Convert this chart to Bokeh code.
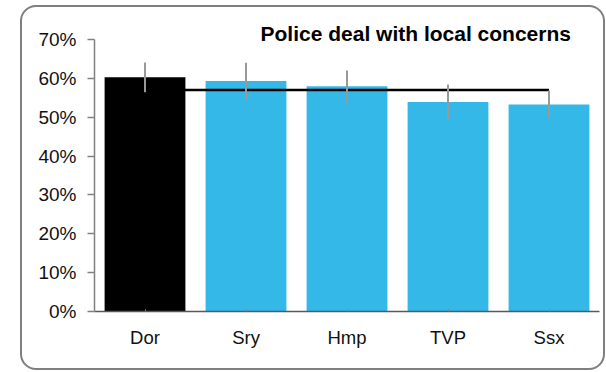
from bokeh.plotting import figure
from bokeh.models import (ColumnDataSource, FactorRange, Range1d, FixedTicker,
                          NumeralTickFormatter)
from bokeh.embed import file_html
from bokeh.resources import INLINE

# ---- data ----
categories = ["Dor", "Sry", "Hmp", "TVP", "Ssx"]
values = [0.603, 0.593, 0.580, 0.539, 0.533]
err_low = [0.564, 0.546, 0.537, 0.495, 0.500]
err_high = [0.641, 0.640, 0.620, 0.584, 0.569]
bar_colors = ["#000000", "#33B8E8", "#33B8E8", "#33B8E8", "#33B8E8"]
average = 0.57
avg_from, avg_to = "Dor", "Ssx"
y_ticks = [0.0, 0.1, 0.2, 0.3, 0.4, 0.5, 0.6, 0.7]
chart_title = "Police deal with local concerns"

FONT = "Liberation Sans"

src = ColumnDataSource(dict(cat=categories, val=values, lo=err_low, hi=err_high,
                            color=bar_colors))

p = figure(width=585, height=365, output_backend="svg", toolbar_location=None,
           x_range=FactorRange(factors=categories, range_padding=0),
           y_range=Range1d(0, 0.7),
           min_border_left=74, min_border_right=6, min_border_top=34,
           min_border_bottom=59, margin=(5, 0, 0, 20),
           styles={"outline": "2px solid #7f7f7f", "outline-offset": "-2px",
                   "border-radius": "16px"})
p.outline_line_color = None
p.xgrid.visible = False
p.ygrid.visible = False
p.background_fill_color = "white"
p.border_fill_color = None
p.background_fill_alpha = 0

p.vbar(x="cat", top="val", width=0.8, fill_color="color", line_color=None, source=src)
p.segment(x0=[avg_from], x1=[avg_to], y0=[average], y1=[average],
          line_color="black", line_width=2.5)
p.segment(x0="cat", x1="cat", y0="lo", y1="hi", line_color="#999999",
          line_width=2, source=src)

ya = p.yaxis[0]
ya.ticker = FixedTicker(ticks=y_ticks)
ya.formatter = NumeralTickFormatter(format="0%")
ya.axis_line_color = "#808080"
ya.axis_line_width = 1.5
ya.major_tick_line_color = "#808080"
ya.major_tick_line_width = 1.5
ya.major_tick_out = 7
ya.major_tick_in = 0
ya.minor_tick_line_color = None
ya.major_label_standoff = 11
ya.major_label_text_font = FONT
ya.major_label_text_font_size = "19px"
ya.major_label_text_color = "#111111"

xa = p.xaxis[0]
xa.axis_line_color = "#595959"
xa.axis_line_width = 1.5
xa.major_tick_line_color = "#808080"
xa.major_tick_in = 2
xa.major_tick_out = 0
xa.minor_tick_line_color = None
xa.major_label_standoff = 15
xa.major_label_text_font = FONT
xa.major_label_text_font_size = "18.5px"
xa.major_label_text_color = "#111111"

p.title.text = chart_title
p.title.text_font = FONT
p.title.text_font_size = "21px"
p.title.text_font_style = "bold"
p.title.text_color = "black"
p.title.align = "left"
p.title.offset = 166
p.title.standoff = -10
p.title.vertical_align = "bottom"

open("out.html", "w").write(file_html(p, INLINE))
